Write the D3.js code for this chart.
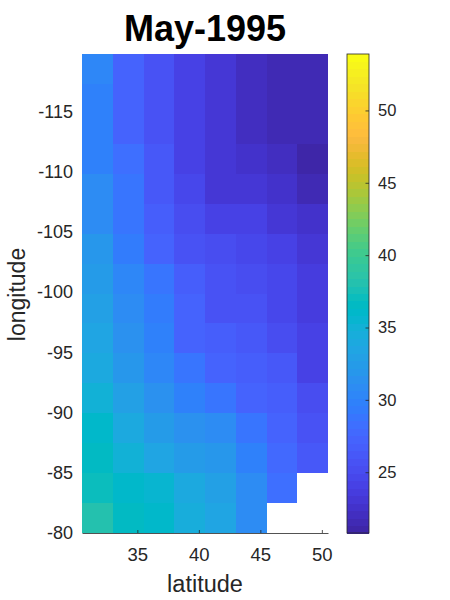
<!DOCTYPE html>
<html><head><meta charset="utf-8">
<script src="https://cdn.jsdelivr.net/npm/d3@7"></script>
<style>html,body{margin:0;padding:0;background:#fff}svg{display:block}text{font-family:"Liberation Sans",Arial,sans-serif}</style>
</head><body><div id="c"></div>
<script>
const titleText = "May-1995";
const xLabel = "latitude";
const yLabel = "longitude";
const xTicks = [35, 40, 45, 50];
const yTicks = [-115, -110, -105, -100, -95, -90, -85, -80];
const cTicks = [25, 30, 35, 40, 45, 50];
const latEdges = [30.5, 33, 35.5, 38, 40.5, 43, 45.5, 48, 50.5];
const lonEdges = [-119.75, -117.27, -114.78, -112.3, -109.81, -107.33, -104.84, -102.36, -99.87, -97.39, -94.9, -92.42, -89.93, -87.45, -84.96, -82.48, -80];
const cRange = [20.8, 53.9];
const row01 = [30.5, 27.5, 25.5, 24.0, 22.9, 22.2, 21.6, 21.6];
const row02 = [30.0, 27.5, 25.6, 24.1, 23.0, 22.0, 21.8, 21.5];
const row03 = [30.0, 27.5, 25.6, 24.1, 23.0, 22.0, 21.8, 21.5];
const row04 = [30.0, 28.1, 26.0, 24.3, 23.3, 22.4, 22.3, 21.3];
const row05 = [30.8, 28.7, 26.4, 24.9, 23.3, 23.0, 22.7, 21.5];
const row06 = [31.0, 29.0, 26.8, 25.4, 24.2, 24.0, 23.2, 22.5];
const row07 = [32.0, 29.5, 27.4, 25.9, 25.0, 24.6, 24.3, 23.2];
const row08 = [32.5, 30.2, 28.6, 26.6, 25.7, 25.2, 24.7, 23.5];
const row09 = [33.0, 31.0, 29.5, 27.5, 25.7, 25.6, 24.8, 23.4];
const row10 = [33.5, 31.3, 30.0, 27.5, 26.7, 26.0, 25.3, 24.0];
const row11 = [34.0, 32.0, 30.3, 28.7, 27.5, 26.8, 26.0, 24.4];
const row12 = [35.0, 33.0, 31.6, 30.0, 28.8, 27.5, 26.7, 25.3];
const row13 = [35.8, 34.2, 32.6, 31.5, 31.0, 29.0, 27.5, 25.8];
const row14 = [36.4, 35.2, 33.3, 32.6, 32.0, 29.8, 27.8, 26.4];
const row15 = [37.2, 36.2, 35.3, 34.0, 33.0, 30.7, 28.2, null];
const row16 = [37.9, 36.7, 36.0, 34.7, 33.6, 31.0, null, null];
const grid = [row01,row02,row03,row04,row05,row06,row07,row08,row09,row10,row11,row12,row13,row14,row15,row16];
const parula = [[.2422,.1504,.6603],[.2504,.165,.7076],[.2578,.1818,.7511],[.2647,.1978,.7952],[.2706,.2147,.8364],[.2751,.2342,.871],[.2783,.2559,.8991],[.2803,.2782,.9221],[.2813,.3006,.9414],[.281,.3228,.9579],[.2795,.3447,.9717],[.276,.3667,.9829],[.2699,.3892,.9906],[.2602,.4123,.9952],[.244,.4358,.9988],[.2206,.4603,.9973],[.1963,.4847,.9892],[.1834,.5074,.9798],[.1786,.5289,.9682],[.1764,.5499,.952],[.1687,.5703,.9359],[.154,.5902,.9218],[.146,.6091,.9079],[.138,.6276,.8973],[.1248,.6459,.8883],[.1113,.6635,.8763],[.0952,.6798,.8598],[.0689,.6948,.8394],[.0297,.7082,.8163],[.0036,.7203,.7917],[.0067,.7312,.766],[.0433,.7411,.7394],[.0964,.75,.712],[.1408,.7584,.6842],[.1717,.767,.6554],[.1938,.7758,.6251],[.2161,.7843,.5923],[.247,.7918,.5567],[.2906,.7973,.5188],[.3406,.8008,.4789],[.3909,.8029,.4354],[.4456,.8024,.3909],[.5044,.7993,.348],[.5616,.7942,.3045],[.6174,.7876,.2612],[.672,.7793,.2227],[.7242,.7698,.191],[.7738,.7598,.1646],[.8203,.7498,.1535],[.8634,.7406,.1596],[.9035,.733,.1774],[.9393,.7288,.21],[.9728,.7298,.2394],[.9956,.7434,.2371],[.997,.7659,.2199],[.9952,.7861,.199],[.9892,.8135,.1885],[.9786,.8362,.176],[.9676,.8621,.1603],[.961,.889,.1537],[.9597,.9135,.1423],[.9628,.9373,.1265],[.9691,.9606,.1064],[.9769,.9839,.0805]];

const W = 450, H = 600, ink = "#262626";
const box = {l:82, r:328, t:54, b:533};
const cbox = {l:347, r:369};
const cssColor = c => `rgb(${c.map(v=>Math.round(v*255)).join(",")})`;
const colors = parula.map(cssColor);
const x = d3.scaleLinear().domain([latEdges[0], latEdges[latEdges.length-1]]).range([box.l, box.r]);
const y = d3.scaleLinear().domain([lonEdges[0], lonEdges[lonEdges.length-1]]).range([box.t, box.b]);
const color = d3.scaleQuantize().domain(cRange).range(colors);
const cy = d3.scaleLinear().domain(cRange).range([box.b, box.t]);

const svg = d3.select("#c").append("svg").attr("width",W).attr("height",H).attr("viewBox",`0 0 ${W} ${H}`);

const cells = grid.flatMap((row,r)=>row.map((v,c)=>({r,c,v}))).filter(d=>d.v!==null);
svg.append("g").attr("shape-rendering","crispEdges").selectAll("rect").data(cells).join("rect")
  .attr("x",d=>x(latEdges[d.c])).attr("width",d=>x(latEdges[d.c+1])-x(latEdges[d.c]))
  .attr("y",d=>y(lonEdges[d.r])).attr("height",d=>y(lonEdges[d.r+1])-y(lonEdges[d.r]))
  .attr("fill",d=>color(d.v));

const xAxis = d3.axisBottom(x).tickValues(xTicks).tickSize(0).tickPadding(14.6).tickFormat(d3.format("d"));
const gx = svg.append("g").attr("transform",`translate(0,${box.b})`).call(xAxis);
gx.select(".domain").attr("stroke",ink).attr("stroke-width",0.8);
gx.selectAll(".tick line").attr("y2",-3).attr("stroke",ink).attr("stroke-width",0.8);
gx.selectAll("text").attr("fill",ink).attr("font-size",18.5);

const yAxis = d3.axisLeft(y).tickValues(yTicks).tickSize(0).tickPadding(9).tickFormat(d=>"-"+Math.abs(d));
const gy = svg.append("g").attr("transform",`translate(${box.l},0)`).call(yAxis);
gy.select(".domain").remove();
gy.selectAll("text").attr("fill",ink).attr("font-size",18);

const step = (cRange[1]-cRange[0])/colors.length;
svg.append("g").attr("shape-rendering","crispEdges").selectAll("rect").data(colors).join("rect")
  .attr("x",cbox.l).attr("width",cbox.r-cbox.l)
  .attr("y",(d,i)=>cy(cRange[0]+(i+1)*step)).attr("height",Math.abs(cy(0)-cy(step))+0.5)
  .attr("fill",d=>d);
svg.append("rect").attr("x",cbox.l).attr("y",box.t).attr("width",cbox.r-cbox.l).attr("height",box.b-box.t)
  .attr("fill","none").attr("stroke",ink).attr("stroke-width",0.8);
const cAxis = d3.axisRight(cy).tickValues(cTicks).tickSize(0).tickPadding(9).tickFormat(d3.format("d"));
const gc = svg.append("g").attr("transform",`translate(${cbox.r},0)`).call(cAxis);
gc.select(".domain").remove();
gc.selectAll(".tick line").attr("x2",-3.5).attr("stroke",ink).attr("stroke-width",0.8);
gc.selectAll("text").attr("fill",ink).attr("font-size",16.5);

svg.append("text").attr("x",205).attr("y",41).attr("text-anchor","middle").attr("font-size",36).attr("font-weight","bold").attr("fill","#000").text(titleText);
svg.append("text").attr("x",205).attr("y",591.5).attr("text-anchor","middle").attr("font-size",23.5).attr("fill",ink).text(xLabel);
svg.append("text").attr("transform","translate(24.5,294.5) rotate(-90)").attr("text-anchor","middle").attr("font-size",23).attr("fill",ink).text(yLabel);
</script></body></html>
